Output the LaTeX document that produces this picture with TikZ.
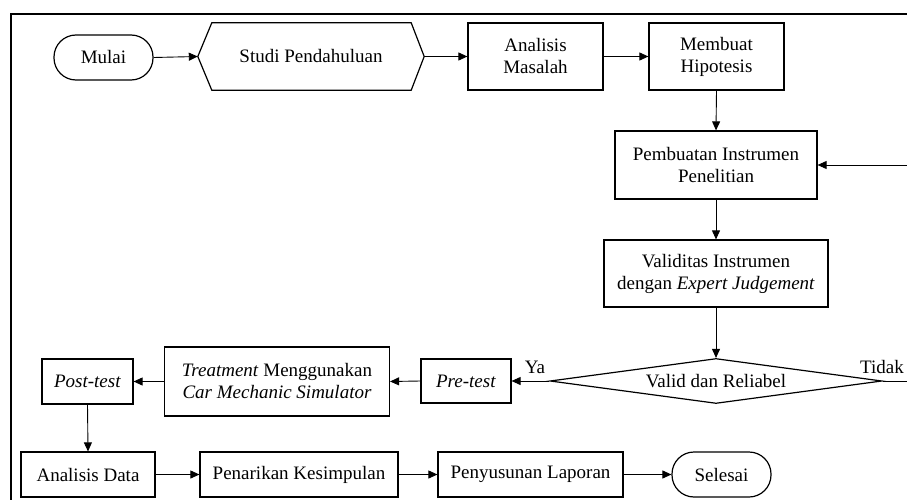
\documentclass[tikz,border=0pt]{standalone}
\usepackage{fontspec}
\setmainfont{Liberation Serif}
\usetikzlibrary{arrows.meta,shapes.geometric}
\begin{document}
\begin{tikzpicture}[x=1pt,y=-1pt,
  every node/.style={font=\fontsize{19}{22}\selectfont},
  box/.style={draw,line width=1.2pt,align=center,inner sep=2pt},
  term/.style={draw,line width=1.2pt,rounded corners=22pt,inner sep=2pt},
  conn/.style={line width=0.9pt,-{Triangle[length=9pt,width=8pt]}},
  lbl/.style={inner sep=0pt}]
\useasboundingbox (0,0) rectangle (907,500);
\draw[line width=1.4pt] (11,503) -- (11,14) -- (910,14);
% top row
\node[term,minimum width=99pt,minimum height=45pt] (mulai) at (103.5,57.5) {Mulai};
\node[inner sep=0pt,minimum width=226pt,minimum height=67pt] (studi) at (311,56.5) {Studi Pendahuluan};
\draw[line width=1.2pt] (studi.west) -- ([xshift=14pt]studi.north west) -- ([xshift=-13pt]studi.north east) -- (studi.east) -- ([xshift=-13pt]studi.south east) -- ([xshift=14pt]studi.south west) -- cycle;
\node[box,minimum width=135pt,minimum height=67pt] (analisis) at (535.5,56.5) {Analisis\\Masalah};
\node[box,minimum width=135pt,minimum height=67pt] (hipotesis) at (716.5,56.5) {Membuat\\Hipotesis};
% right column
\node[box,minimum width=202pt,minimum height=68pt] (pembuatan) at (716,165) {Pembuatan Instrumen\\Penelitian};
\node[box,minimum width=224pt,minimum height=67pt] (validitas) at (716,273.5) {Validitas Instrumen\\dengan \textit{Expert Judgement}};
\node[draw,line width=1.2pt,diamond,aspect=7.4,inner sep=0pt,minimum width=332pt,minimum height=45pt] (valid) at (716,381) {Valid dan Reliabel};
% middle row
\node[box,minimum width=90pt,minimum height=44pt] (pretest) at (466,381) {\textit{Pre-test}};
\node[box,minimum width=225pt,minimum height=69pt] (treatment) at (277,381.5) {\textit{Treatment} Menggunakan\\\textit{Car Mechanic Simulator}};
\node[box,minimum width=91pt,minimum height=45pt] (posttest) at (87.5,381.5) {\textit{Post-test}};
% bottom row
\node[box,minimum width=134pt,minimum height=45pt] (adata) at (88,474.5) {Analisis Data};
\node[box,minimum width=198pt,minimum height=45pt] (penarikan) at (299,474.5) {Penarikan Kesimpulan};
\node[box,minimum width=185pt,minimum height=45pt] (penyusunan) at (530.5,474.5) {Penyusunan Laporan};
\node[term,minimum width=99pt,minimum height=45pt] (selesai) at (721.5,474.5) {Selesai};
% labels
\node[lbl,anchor=base] (ya) at (535,373) {Ya};
\node[lbl,anchor=base] (tidak) at (882,373) {Tidak};
% connectors
\coordinate (rt) at (915,381);
\draw[conn] (mulai.east) -- (studi.west);
\draw[conn] (studi.east) -- (analisis.west);
\draw[conn] (analisis.east) -- (hipotesis.west);
\draw[conn] (hipotesis.south) -- (pembuatan.north);
\draw[conn] (pembuatan.south) -- (validitas.north);
\draw[conn] (validitas.south) -- (valid.north);
\draw[conn] (valid.west) -- (pretest.east);
\draw[conn] (pretest.west) -- (treatment.east);
\draw[conn] (treatment.west) -- (posttest.east);
\draw[conn] (posttest.south) -- (adata.north);
\draw[conn] (adata.east) -- (penarikan.west);
\draw[conn] (penarikan.east) -- (penyusunan.west);
\draw[conn] (penyusunan.east) -- (selesai.west);
\draw[conn] (valid.east) -- (rt) |- (pembuatan.east);
\end{tikzpicture}
\end{document}
